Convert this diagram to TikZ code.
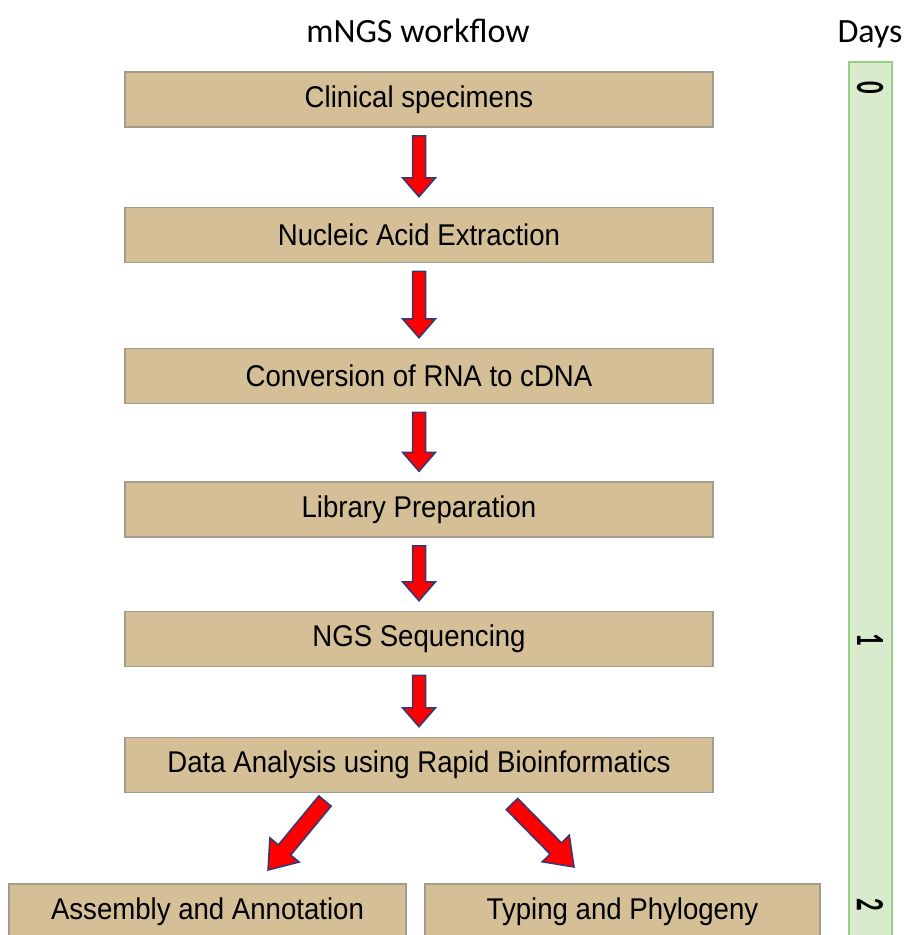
\documentclass[tikz,border=0pt]{standalone}
\usepackage{fontspec}
\usepackage{graphicx}
\setmainfont{Liberation Sans}
\newfontfamily\boxfont[FakeStretch=0.92]{Liberation Sans}
\newfontfamily\titlefont{Carlito}
\usetikzlibrary{calc}
\definecolor{boxfill}{HTML}{D4BF96}
\definecolor{boxline}{HTML}{A39B8C}
\definecolor{barfill}{HTML}{D8EBCC}
\definecolor{barline}{HTML}{96CF80}
\definecolor{arrfill}{HTML}{FF0000}
\definecolor{arrline}{HTML}{2E3A78}
\tikzset{
  stepbox/.style={draw=boxline, fill=boxfill, line width=1.5pt, minimum width=588pt, minimum height=55pt, inner sep=0pt, font=\boxfont\fontsize{30}{34}\selectfont},
  endbox/.style={stepbox, minimum height=55pt},
  arrowstyle/.style={fill=arrfill, draw=arrline, line width=1.5pt, line join=miter},
  titletext/.style={font=\titlefont\fontsize{34}{38}\selectfont, anchor=base},
  daytext/.style={font=\titlefont\bfseries\fontsize{40}{40}\selectfont, rotate=-90, inner sep=0pt}
}
\newcommand\blockarrow[5]{%
  \coordinate (H) at ($(#2)!#5!(#1)$);
  \filldraw[arrowstyle] ($(#1)!#3!90:(#2)$) -- ($(H)!#3!90:(#2)$) -- ($(H)!#4!90:(#2)$) -- (#2) -- ($(H)!#4!-90:(#2)$) -- ($(H)!#3!-90:(#2)$) -- ($(#1)!#3!-90:(#2)$) -- cycle;}
\begin{document}
\begin{tikzpicture}[x=1pt, y=-1pt]
\clip (0,0) rectangle (905,935);
\fill[white] (0,0) rectangle (905,935);
% titles
\node[titletext] (title) at (418,42) {mNGS workflow};
\node[titletext] (days) at (870,42) {Days};
% day bar
\draw[fill=barfill, draw=barline, line width=1.5pt] (849,62) rectangle (892,970);
\node[daytext] (d0) at (870,88) {\scalebox{0.62}[1]{0}};
\node[daytext] (d1) at (870,640) {\scalebox{0.62}[1]{1}};
\node[daytext] (d2) at (870,905) {\scalebox{0.62}[1]{2}};
% steps
\node[stepbox] (b1) at (419,99.5) {Clinical specimens};
\node[stepbox] (b2) at (419,235) {Nucleic Acid Extraction};
\node[stepbox] (b3) at (419,376) {Conversion of RNA to cDNA};
\node[stepbox] (b4) at (419,509.5) {Library Preparation};
\node[stepbox] (b5) at (419,639) {NGS Sequencing};
\node[stepbox] (b6) at (419,765) {Data Analysis using Rapid Bioinformatics};
\node[endbox, minimum width=397pt] (l) at (207.5,911.5) {Assembly and Annotation};
\node[endbox, minimum width=395pt] (r) at (622.5,911.5) {Typing and Phylogeny};
% vertical arrows
\foreach \a/\b in {b1/b2, b2/b3, b3/b4, b4/b5, b5/b6}{
  \coordinate (s) at ([yshift=-8pt]\a.south);
  \coordinate (e) at ([yshift=10pt]\b.north);
  \blockarrow{s}{e}{6.5pt}{16.5pt}{19pt}
}
% diagonal arrows
\coordinate (ls) at (325,801);
\coordinate (le) at (268,870);
\blockarrow{ls}{le}{8pt}{19pt}{26pt}
\coordinate (rs) at (512,804);
\coordinate (re) at (574,867);
\blockarrow{rs}{re}{8pt}{19pt}{26pt}
\end{tikzpicture}
\end{document}
